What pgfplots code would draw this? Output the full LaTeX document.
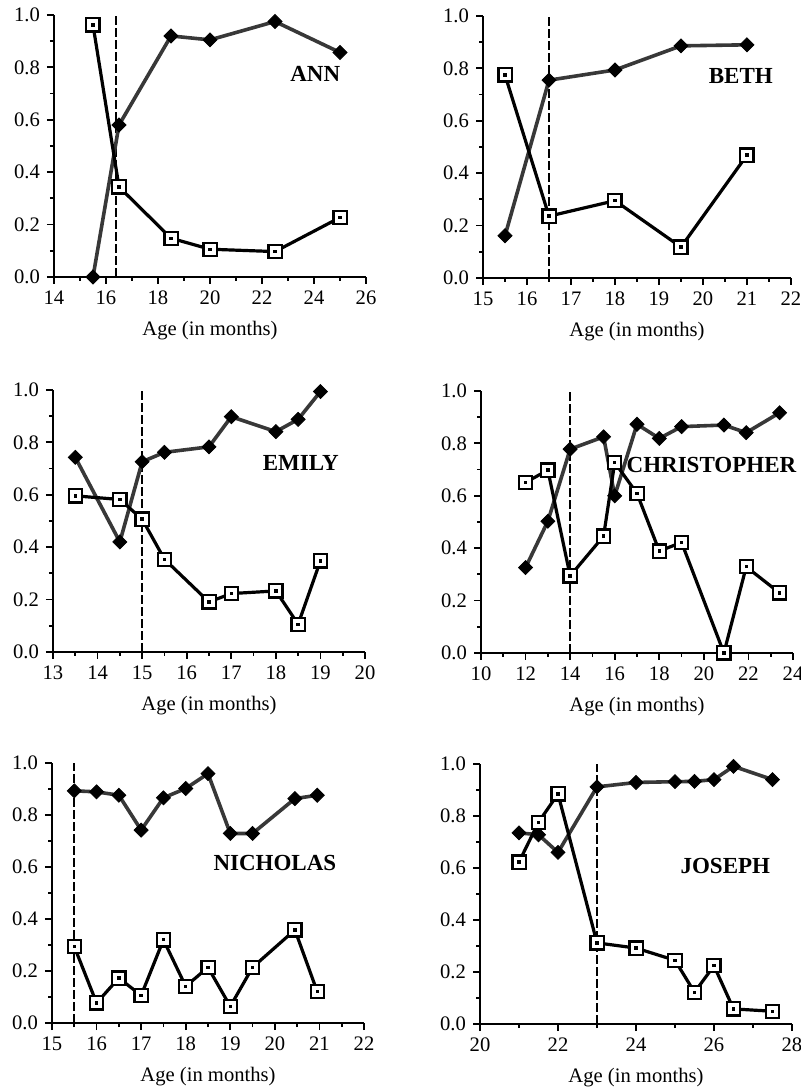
\documentclass[border=0pt]{standalone}
\usepackage{fontspec}
\setmainfont{Liberation Serif}
\usepackage{pgfplots}
\pgfplotsset{compat=1.18}

% open square with a dot in the middle
\pgfdeclareplotmark{sqdot}{%
  \pgfpathrectangle{\pgfpoint{-\pgfplotmarksize}{-\pgfplotmarksize}}{\pgfpoint{2\pgfplotmarksize}{2\pgfplotmarksize}}%
  \pgfsetfillcolor{white}\pgfusepathqfillstroke
  \pgfpathrectangle{\pgfpoint{-0.85pt}{-0.85pt}}{\pgfpoint{1.7pt}{1.7pt}}%
  \pgfsetfillcolor{black}\pgfusepathqfill}
% square-ish diamond
\pgfdeclareplotmark{dmd}{%
  \pgfpathmoveto{\pgfpoint{0pt}{\pgfplotmarksize}}%
  \pgfpathlineto{\pgfpoint{\pgfplotmarksize}{0pt}}%
  \pgfpathlineto{\pgfpoint{0pt}{-\pgfplotmarksize}}%
  \pgfpathlineto{\pgfpoint{-\pgfplotmarksize}{0pt}}%
  \pgfpathclose\pgfusepathqfillstroke}

\tikzset{who/.style={font=\bfseries\fontsize{11.5}{13}\selectfont}}
\pgfplotsset{
  panel/.style={
    width=156pt, height=131pt, scale only axis, anchor=south west,
    axis lines=left, axis line style={line width=1.3pt,-},
    every outer x axis line/.append style={-},
    every outer y axis line/.append style={-},
    ymin=0, ymax=1, ytick={0,0.2,0.4,0.6,0.8,1},
    minor x tick num=1, minor y tick num=1,
    tick align=outside, major tick length=3.5pt, minor tick length=2pt,
    every tick/.style={black, line width=0.9pt},
    yticklabel style={/pgf/number format/.cd, fixed, fixed zerofill, precision=1},
    ticklabel style={font=\fontsize{10.3}{12}\selectfont},
    /pgf/number format/assume math mode=true,
    xlabel={Age (in months)},
    xlabel style={font=\fontsize{10.3}{12}\selectfont, at={(axis description cs:0.5,0)}, anchor=center, yshift=-27pt},
    clip=false, enlargelimits=false,
  },
  dia/.style={draw=black!78, line width=1.8pt, mark=dmd, mark size=3.5pt,
    mark options={solid, fill=black, draw=black, line width=0.4pt}},
  sq/.style={draw=black, line width=1.6pt, mark=sqdot, mark size=3.3pt,
    mark options={solid, draw=black, line width=1.1pt}},
  vl/.style={black, line width=0.9pt, dash pattern=on 4.5pt off 1.5pt, mark=none},
}

\begin{document}
\begin{tikzpicture}
\path[use as bounding box] (0pt,0pt) rectangle (400.5pt,546pt);

% ANN
\begin{axis}[panel, at={(27pt,407.5pt)}, xmin=14, xmax=26, xtick={14,16,...,26}]
\addplot[vl] coordinates {(16.4,0) (16.4,1)};
\addplot[dia] coordinates {(15.5,0.0) (16.5,0.58) (18.5,0.92) (20,0.905) (22.5,0.975) (25,0.857)};
\addplot[sq] coordinates {(15.5,0.962) (16.5,0.344) (18.5,0.148) (20,0.106) (22.5,0.097) (25,0.227)};
\node[who] at (axis cs:24.05,0.774) {ANN};
\end{axis}

% BETH
\begin{axis}[panel, at={(241.5pt,407pt)}, width=154pt, xmin=15, xmax=22, xtick={15,...,22}]
\addplot[vl] coordinates {(16.5,0) (16.5,1)};
\addplot[dia] coordinates {(15.5,0.161) (16.5,0.755) (18,0.794) (19.5,0.886) (21,0.89)};
\addplot[sq] coordinates {(15.5,0.775) (16.5,0.236) (18,0.295) (19.5,0.118) (21,0.469)};
\node[who] at (axis cs:20.86,0.771) {BETH};
\end{axis}

% EMILY
\begin{axis}[panel, at={(26.5pt,220pt)}, xmin=13, xmax=20, xtick={13,...,20}]
\addplot[vl] coordinates {(15,0) (15,1)};
\addplot[dia] coordinates {(13.5,0.743) (14.5,0.42) (15,0.726) (15.5,0.762) (16.5,0.783) (17,0.898) (18,0.841) (18.5,0.888) (19,0.994)};
\addplot[sq] coordinates {(13.5,0.596) (14.5,0.582) (15,0.507) (15.5,0.354) (16.5,0.191) (17,0.223) (18,0.233) (18.5,0.106) (19,0.348)};
\node[who] at (axis cs:18.56,0.722) {EMILY};
\end{axis}

% CHRISTOPHER
\begin{axis}[panel, at={(240.5pt,219.5pt)}, xmin=10, xmax=24, xtick={10,12,...,24}]
\addplot[vl] coordinates {(14,0) (14,1)};
\addplot[dia] coordinates {(12,0.326) (13,0.503) (14,0.778) (15.5,0.825) (16,0.6) (17,0.873) (18,0.819) (19,0.864) (20.9,0.87) (21.9,0.841) (23.4,0.917)};
\addplot[sq] coordinates {(12,0.651) (13,0.698) (14,0.294) (15.5,0.446) (16,0.727) (17,0.609) (18,0.389) (19,0.422) (20.9,0.0) (21.9,0.329) (23.4,0.229)};
\node[who] at (axis cs:20.34,0.717) {CHRISTOPHER};
\end{axis}

% NICHOLAS
\begin{axis}[panel, at={(26pt,34.5pt)}, height=130pt, xmin=15, xmax=22, xtick={15,...,22}]
\addplot[vl] coordinates {(15.5,0) (15.5,1)};
\addplot[dia] coordinates {(15.5,0.893) (16,0.889) (16.5,0.876) (17,0.742) (17.5,0.866) (18,0.902) (18.5,0.959) (19,0.729) (19.5,0.729) (20.45,0.863) (20.95,0.876)};
\addplot[sq] coordinates {(15.5,0.294) (16,0.077) (16.5,0.173) (17,0.106) (17.5,0.32) (18,0.141) (18.5,0.214) (19,0.064) (19.5,0.214) (20.45,0.358) (20.95,0.121)};
\node[who] at (axis cs:20.0,0.616) {NICHOLAS};
\end{axis}

% JOSEPH
\begin{axis}[panel, at={(240pt,34pt)}, height=130pt, xmin=20, xmax=28, xtick={20,22,...,28}]
\addplot[vl] coordinates {(23,0) (23,1)};
\addplot[dia] coordinates {(21,0.735) (21.5,0.728) (22,0.66) (23,0.912) (24,0.929) (25,0.932) (25.5,0.933) (26,0.94) (26.5,0.991) (27.5,0.94)};
\addplot[sq] coordinates {(21,0.623) (21.5,0.776) (22,0.885) (23,0.312) (24,0.292) (25,0.245) (25.5,0.122) (26,0.224) (26.5,0.058) (27.5,0.049)};
\node[who] at (axis cs:26.29,0.606) {JOSEPH};
\end{axis}
\end{tikzpicture}
\end{document}
